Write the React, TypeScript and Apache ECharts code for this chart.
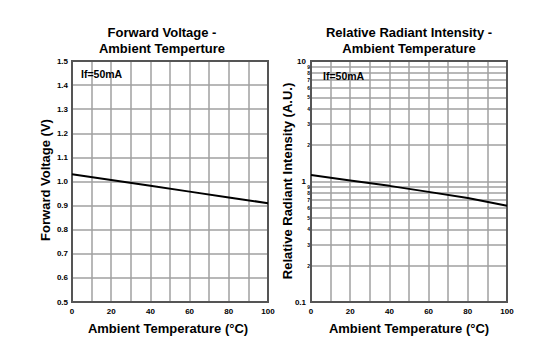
import React, { useEffect, useRef } from "react";
import * as echarts from "echarts";

const tempX = [0, 20, 40, 60, 80, 100];
const forwardVoltage = [1.03, 1.006, 0.982, 0.958, 0.934, 0.91];
const relIntensity = [1.13, 1.02, 0.92, 0.82, 0.73, 0.63];
const logTicks = [0.1, 0.2, 0.3, 0.4, 0.5, 0.6, 0.7, 0.8, 0.9, 1, 2, 3, 4, 5, 6, 7, 8, 9, 10];
const titleLeft = ["Forward Voltage -", "Ambient Temperture"];
const titleRight = ["Relative Radiant Intensity -", "Ambient Temperature"];
const xName = "Ambient Temperature (°C)";
const yNameLeft = "Forward Voltage (V)";
const yNameRight = "Relative Radiant Intensity (A.U.)";
const condition = "If=50mA";

const FONT = "'Liberation Sans', Arial, sans-serif";
const GRID_COLOR = "#a0a0a0";

function isMajor(v: number) {
  const l = Math.log10(v);
  return Math.abs(l - Math.round(l)) < 1e-6;
}

export default function App() {
  const ref = useRef<HTMLDivElement>(null);
  useEffect(() => {
    if (!ref.current) return;
    const chart = echarts.init(ref.current, null, { renderer: "svg" });
    const xAxisCommon = (gridIndex: number) => ({
      type: "value" as const,
      gridIndex,
      min: 0,
      max: 100,
      interval: 10,
      axisLine: { show: false },
      axisTick: { show: false },
      splitLine: { show: true, lineStyle: { color: GRID_COLOR, width: 1.5 } },
      axisLabel: {
        margin: 5,
        fontSize: 8,
        fontWeight: "bold",
        fontFamily: FONT,
        color: "#000",
        formatter: (v: number) => (v % 20 === 0 ? String(v) : ""),
      },
    });
    const textEl = (text: string, x: number, y: number, size: number, rotation = 0, align = "center") => ({
      type: "text",
      x,
      y,
      rotation,
      z: 10,
      style: {
        text,
        fill: "#000",
        font: `bold ${size}px ${FONT}`,
        textAlign: align,
        textVerticalAlign: "middle",
      },
    });
    chart.setOption({
      animation: false,
      backgroundColor: "#fff",
      grid: [
        { left: 72, top: 61, width: 196, height: 241, show: true, borderColor: "#555", borderWidth: 2, z: 1 },
        { left: 311, top: 61, width: 196, height: 241, show: true, borderColor: "#555", borderWidth: 2, z: 1 },
      ],
      xAxis: [xAxisCommon(0), xAxisCommon(1)],
      yAxis: [
        {
          type: "value",
          gridIndex: 0,
          min: 0.5,
          max: 1.5,
          interval: 0.1,
          axisLine: { show: false },
          axisTick: { show: false },
          splitLine: { show: true, lineStyle: { color: GRID_COLOR, width: 1.5 } },
          axisLabel: {
            margin: 4,
            fontSize: 8,
            fontWeight: "bold",
            fontFamily: FONT,
            color: "#000",
            formatter: (v: number) => v.toFixed(1),
          },
        },
        {
          type: "log",
          logBase: 10,
          gridIndex: 1,
          min: 0.1,
          max: 10,
          axisLine: { show: false },
          axisTick: { show: false, customValues: logTicks },
          splitLine: { show: true, lineStyle: { color: GRID_COLOR, width: 1.5 } },
          axisLabel: {
            customValues: logTicks,
            margin: 1,
            color: "#000",
            fontFamily: FONT,
            formatter: (v: number) => {
              if (isMajor(v)) {
                const r = Math.round(Math.log10(v));
                const s = r === -1 ? "0.1" : r === 0 ? "1" : "10";
                return `{b|${s}}`;
              }
              const d = Math.round(v / Math.pow(10, Math.floor(Math.log10(v) + 1e-9)));
              return `{s|${d}}`;
            },
            rich: {
              b: { fontSize: 8, fontWeight: "bold", fontFamily: FONT, color: "#000", padding: [0, 4, 0, 0] },
              s: { fontSize: 5, fontWeight: "bold", fontFamily: FONT, color: "#000" },
            },
          },
        },
      ],
      series: [
        {
          type: "line",
          xAxisIndex: 0,
          yAxisIndex: 0,
          data: tempX.map((t, i) => [t, forwardVoltage[i]]),
          showSymbol: false,
          lineStyle: { color: "#000", width: 2 },
          z: 3,
        },
        {
          type: "line",
          xAxisIndex: 1,
          yAxisIndex: 1,
          data: tempX.map((t, i) => [t, relIntensity[i]]),
          showSymbol: false,
          lineStyle: { color: "#000", width: 2 },
          z: 3,
        },
      ],
      graphic: [
        textEl(titleLeft[0], 162, 32, 13),
        textEl(titleLeft[1], 162, 48, 13),
        textEl(titleRight[0], 409, 32, 13),
        textEl(titleRight[1], 409, 48, 13),
        textEl(xName, 168, 328, 13),
        textEl(xName, 409, 328, 13),
        textEl(yNameLeft, 45, 180, 13, Math.PI / 2),
        textEl(yNameRight, 287, 181, 13, Math.PI / 2),
        textEl(condition, 81, 73.5, 10.5, 0, "left"),
        textEl(condition, 323, 75.5, 10.5, 0, "left"),
      ],
    });
    return () => chart.dispose();
  }, []);
  return <div ref={ref} style={{ position: "fixed", left: 0, top: 0, width: 554, height: 358 }} />;
}
